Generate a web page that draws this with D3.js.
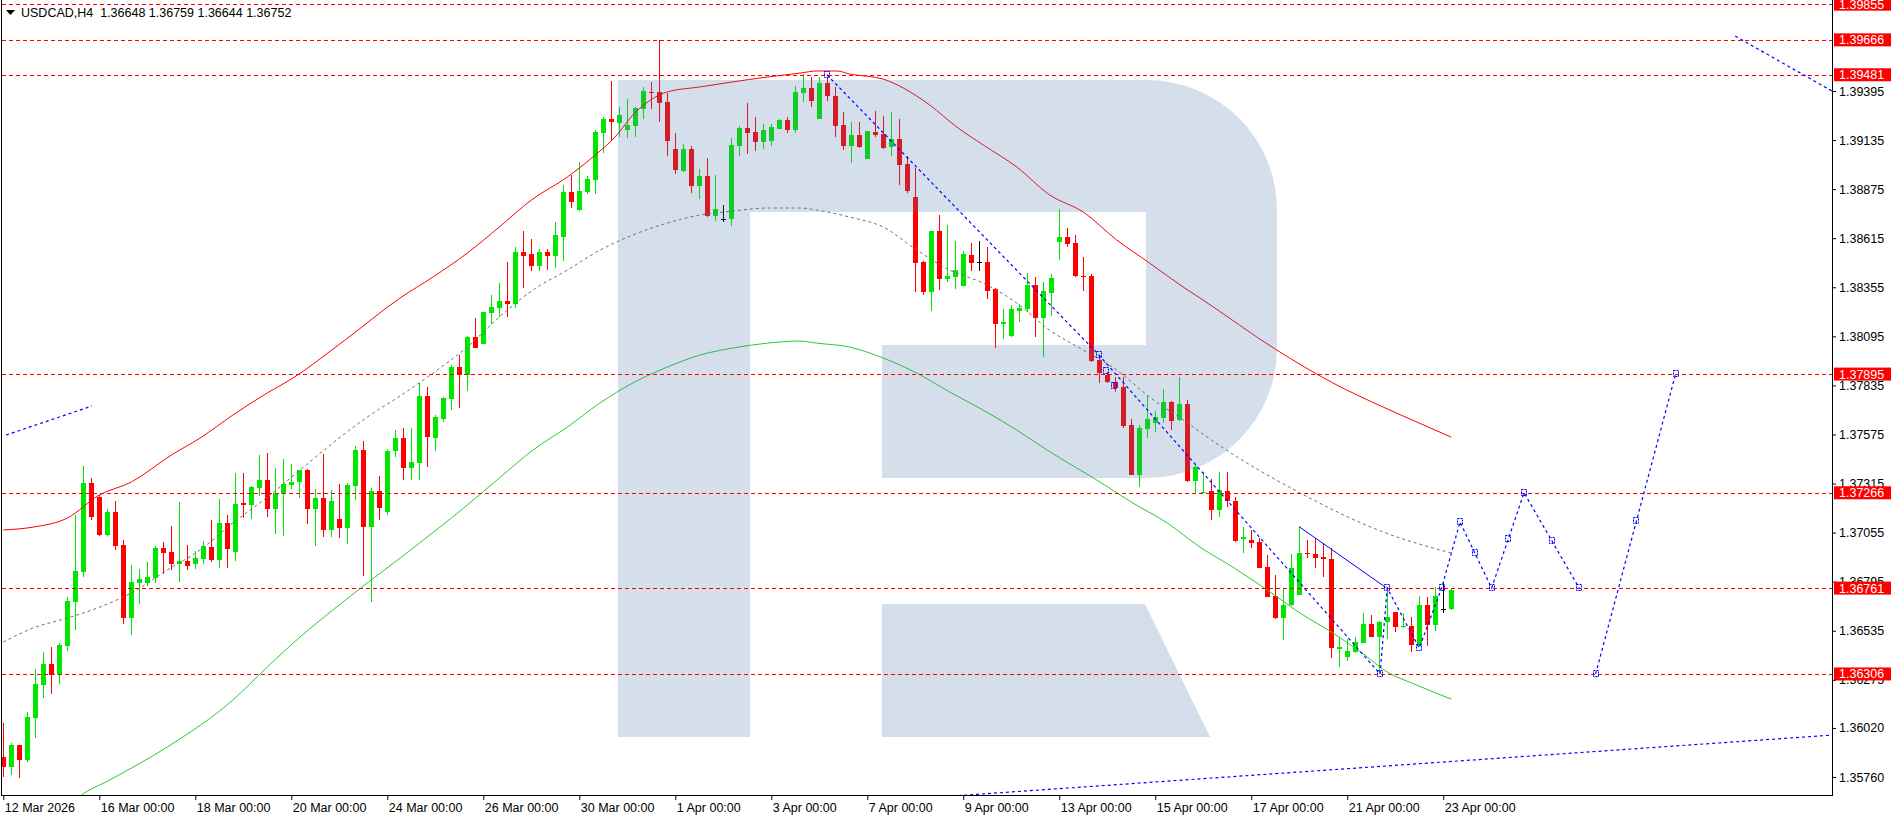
<!DOCTYPE html>
<html><head><meta charset="utf-8">
<script src="https://cdn.jsdelivr.net/npm/d3@7/dist/d3.min.js"></script>
<style>html,body{margin:0;padding:0;background:#fff;} svg{display:block;}</style>
</head><body><svg id="c" width="1896" height="820"></svg>
<script>
// ---------- DATA ----------
const symbolTitle = "USDCAD,H4";
const lastOHLC = ["1.36648", "1.36759", "1.36644", "1.36752"];

const open = [1.35868,1.35815,1.35929,1.35850,1.36074,1.36247,1.36359,1.36302,1.36454,1.36689,
1.36846,1.37319,1.37245,1.37042,1.37166,1.36991,1.36604,1.36786,1.36790,1.36816,
1.36975,1.36952,1.36890,1.36904,1.36890,1.36915,1.36980,1.36910,1.37107,1.36952,
1.37212,1.37201,1.37293,1.37335,1.37182,1.37261,1.37309,1.37321,1.37386,1.37182,
1.37240,1.37070,1.37127,1.37081,1.37302,1.37494,1.37086,1.37275,1.37166,1.37485,
1.37554,1.37399,1.37425,1.37779,1.37558,1.37655,1.37763,1.37934,1.37890,1.38093,
1.38056,1.38219,1.38247,1.38284,1.38268,1.38543,1.38531,1.38469,1.38543,1.38522,
1.38623,1.38860,1.38764,1.38861,1.38923,1.39174,1.39246,1.39227,1.39188,1.39211,
1.39298,1.39391,1.39390,1.39337,1.39087,1.38973,1.39087,1.38893,1.38944,1.38734,
1.38718,1.38718,1.39105,1.39199,1.39178,1.39126,1.39132,1.39195,1.39241,1.39188,
1.39386,1.39411,1.39246,1.39439,1.39368,1.39215,1.39105,1.39162,1.39036,1.39179,
1.39167,1.39100,1.39141,1.39006,1.38835,1.38490,1.38332,1.38653,1.38399,1.38409,
1.38363,1.38526,1.38489,1.38489,1.38344,1.38162,1.38098,1.38231,1.38242,1.38367,
1.38194,1.38326,1.38596,1.38621,1.38591,1.38415,1.38416,1.37969,1.37890,1.37851,
1.37828,1.37625,1.37360,1.37604,1.37637,1.37664,1.37749,1.37651,1.37736,1.37330,
1.37266,1.37273,1.37174,1.37275,1.37222,1.37023,1.37016,1.37007,1.36872,1.36719,
1.36604,1.36671,1.36724,1.36948,1.36941,1.36924,1.36915,1.36440,1.36397,1.36424,
1.36472,1.36570,1.36503,1.36583,1.36634,1.36553,1.36560,1.36459,1.36671,1.36565,
1.36648,1.36648];
const high = [1.36044,1.35938,1.35929,1.36106,1.36330,1.36424,1.36450,1.36468,1.36712,1.37148,
1.37408,1.37346,1.37254,1.37180,1.37224,1.37016,1.36883,1.36860,1.36901,1.36986,
1.37005,1.37092,1.37219,1.36991,1.36957,1.37010,1.37123,1.37233,1.37148,1.37371,
1.37371,1.37304,1.37468,1.37478,1.37397,1.37445,1.37420,1.37388,1.37390,1.37288,
1.37471,1.37281,1.37314,1.37319,1.37515,1.37542,1.37293,1.37355,1.37498,1.37600,
1.37607,1.37607,1.37846,1.37828,1.37680,1.37775,1.37943,1.37996,1.38097,1.38194,
1.38224,1.38314,1.38379,1.38489,1.38570,1.38653,1.38611,1.38558,1.38558,1.38701,
1.38897,1.38950,1.39020,1.38944,1.39188,1.39259,1.39448,1.39308,1.39351,1.39308,
1.39414,1.39444,1.39666,1.39383,1.39172,1.39114,1.39103,1.38982,1.39042,1.38950,
1.38791,1.39148,1.39209,1.39329,1.39259,1.39220,1.39220,1.39246,1.39259,1.39421,
1.39485,1.39467,1.39467,1.39462,1.39414,1.39282,1.39232,1.39232,1.39183,1.39289,
1.39262,1.39284,1.39246,1.39050,1.38985,1.38496,1.38653,1.38738,1.38685,1.38600,
1.38547,1.38591,1.38600,1.38567,1.38349,1.38240,1.38261,1.38266,1.38432,1.38409,
1.38385,1.38425,1.38770,1.38667,1.38632,1.38515,1.38423,1.37996,1.37908,1.37881,
1.37877,1.37657,1.37625,1.37779,1.37699,1.37814,1.37754,1.37877,1.37757,1.37413,
1.37374,1.37337,1.37378,1.37374,1.37245,1.37083,1.37069,1.37024,1.36936,1.36830,
1.36759,1.36941,1.37090,1.37016,1.37024,1.36998,1.36971,1.36503,1.36489,1.36503,
1.36627,1.36618,1.36588,1.36765,1.36634,1.36627,1.36609,1.36719,1.36715,1.36765,
1.36786,1.36759];
const low = [1.35762,1.35770,1.35753,1.35841,1.35965,1.36177,1.36200,1.36253,1.36429,1.36539,
1.36821,1.37122,1.37039,1.37039,1.36963,1.36571,1.36512,1.36676,1.36772,1.36790,
1.36834,1.36857,1.36793,1.36857,1.36864,1.36888,1.36897,1.36867,1.36867,1.36904,
1.37134,1.37129,1.37249,1.37136,1.37047,1.37035,1.37284,1.37240,1.37100,1.36986,
1.37033,1.37033,1.37026,1.36994,1.37229,1.36827,1.36689,1.37122,1.37148,1.37454,
1.37334,1.37334,1.37334,1.37404,1.37489,1.37643,1.37705,1.37717,1.37807,1.38035,
1.38056,1.38158,1.38199,1.38199,1.38243,1.38353,1.38443,1.38441,1.38446,1.38459,
1.38496,1.38777,1.38759,1.38849,1.38849,1.39064,1.39135,1.39153,1.39144,1.39153,
1.39248,1.39300,1.39232,1.39050,1.38957,1.38966,1.38856,1.38824,1.38729,1.38708,
1.38702,1.38681,1.39050,1.39059,1.39079,1.39086,1.39105,1.39193,1.39174,1.39171,
1.39338,1.39312,1.39246,1.39342,1.39153,1.39082,1.39012,1.39095,1.39036,1.39149,
1.39086,1.39052,1.38897,1.38856,1.38332,1.38314,1.38229,1.38340,1.38385,1.38346,
1.38363,1.38443,1.38443,1.38293,1.38035,1.38082,1.38093,1.38173,1.38226,1.38093,
1.37984,1.38204,1.38499,1.38570,1.38411,1.38337,1.37961,1.37849,1.37846,1.37801,
1.37607,1.37360,1.37298,1.37558,1.37590,1.37637,1.37598,1.37648,1.37325,1.37257,
1.37266,1.37122,1.37136,1.37192,1.37007,1.36945,1.36971,1.36865,1.36712,1.36599,
1.36486,1.36666,1.36724,1.36918,1.36865,1.36821,1.36389,1.36341,1.36376,1.36415,
1.36468,1.36503,1.36309,1.36489,1.36530,1.36551,1.36424,1.36454,1.36454,1.36535,
1.36630,1.36644];
const close = [1.35815,1.35929,1.35850,1.36079,1.36253,1.36359,1.36302,1.36459,1.36694,1.36851,
1.37319,1.37139,1.37042,1.37166,1.36986,1.36604,1.36795,1.36809,1.36820,1.36975,
1.36949,1.36888,1.36904,1.36880,1.36920,1.36986,1.36910,1.37107,1.36968,1.37206,
1.37203,1.37296,1.37335,1.37182,1.37265,1.37312,1.37325,1.37388,1.37182,1.37240,
1.37070,1.37222,1.37081,1.37307,1.37494,1.37086,1.37275,1.37187,1.37487,1.37556,
1.37399,1.37429,1.37779,1.37563,1.37666,1.37766,1.37934,1.37890,1.38093,1.38035,
1.38224,1.38250,1.38284,1.38268,1.38543,1.38522,1.38469,1.38543,1.38522,1.38632,
1.38860,1.38808,1.38865,1.38929,1.39179,1.39246,1.39232,1.39268,1.39215,1.39305,
1.39393,1.39383,1.39333,1.39132,1.38978,1.39087,1.38893,1.38944,1.38734,1.38770,
1.38718,1.39109,1.39199,1.39174,1.39126,1.39188,1.39204,1.39241,1.39188,1.39390,
1.39411,1.39344,1.39439,1.39370,1.39211,1.39105,1.39162,1.39100,1.39183,1.39162,
1.39095,1.39141,1.39003,1.38865,1.38485,1.38332,1.38653,1.38399,1.38415,1.38446,
1.38531,1.38485,1.38489,1.38337,1.38160,1.38169,1.38240,1.38245,1.38367,1.38194,
1.38335,1.38404,1.38621,1.38586,1.38415,1.38411,1.37966,1.37899,1.37851,1.37819,
1.37620,1.37360,1.37607,1.37655,1.37666,1.37745,1.37648,1.37736,1.37330,1.37404,
1.37272,1.37174,1.37281,1.37222,1.37012,1.37030,1.37001,1.36869,1.36715,1.36604,
1.36669,1.36865,1.36945,1.36940,1.36922,1.36913,1.36442,1.36447,1.36427,1.36475,
1.36570,1.36503,1.36583,1.36609,1.36556,1.36562,1.36459,1.36671,1.36565,1.36721,
1.36648,1.36752];

// envelope indicator readings: [bar index, price]
const upperBand = [[0,1.37069],[3.7,1.37084],[8,1.37132],[12,1.37254],[16,1.37323],[21,1.37466],[24.6,1.37556],[28.7,1.37678],[33,1.37795],[35.8,1.37863],[42.7,1.38075],[49.6,1.38298],[53.7,1.38409],[58,1.38536],[62,1.38674],[66,1.38817],[70.5,1.38939],[73.7,1.39045],[76.7,1.39162],[78.7,1.39268],[80.9,1.39347],[83,1.39390],[87,1.39416],[91,1.39442],[95.5,1.39469],[99.6,1.39490],[101.7,1.39501],[104.2,1.39501],[105.8,1.39485],[110,1.39458],[112.5,1.39411],[115.8,1.39321],[119.2,1.39204],[122.5,1.39109],[126.7,1.38992],[130.8,1.38844],[135,1.38754],[139.2,1.38605],[143.3,1.38483],[147.5,1.38356],[149.6,1.38298],[159.2,1.38022],[166.2,1.37848],[172.5,1.37720],[176.7,1.37641],[181,1.37561]];
const middleBand = [[0,1.36475],[3.7,1.36549],[8,1.36602],[12.1,1.36661],[16.2,1.36740],[20.5,1.36857],[24.6,1.36963],[28.7,1.37106],[33,1.37243],[37.1,1.37387],[41.2,1.37530],[45.5,1.37667],[49.6,1.37779],[53.7,1.37900],[58,1.38038],[62,1.38197],[66.2,1.38340],[70.5,1.38446],[74.6,1.38552],[78.7,1.38632],[83,1.38695],[87.1,1.38738],[91.2,1.38759],[95.5,1.38775],[99.6,1.38775],[101.7,1.38764],[105.8,1.38727],[110,1.38674],[114.2,1.38552],[118.3,1.38446],[122.5,1.38377],[126.7,1.38271],[130.8,1.38128],[135,1.38022],[139.2,1.37916],[143.3,1.37773],[147.5,1.37651],[152.5,1.37503],[162.1,1.37265],[172.5,1.37058],[181,1.36947]];
const lowerBand = [[6,1.35505],[9.6,1.35659],[13.3,1.35744],[20.5,1.35919],[28.7,1.36168],[33,1.36343],[37.1,1.36502],[41.2,1.36645],[45.5,1.36788],[49.6,1.36920],[58,1.37201],[62,1.37344],[66.2,1.37492],[70.5,1.37614],[74.6,1.37742],[78.7,1.37848],[83,1.37932],[87.1,1.37996],[91.2,1.38033],[95.5,1.38059],[99.6,1.38070],[101.7,1.38059],[105.8,1.38038],[110,1.37980],[114.2,1.37900],[118.3,1.37800],[122.5,1.37704],[126.7,1.37598],[130.5,1.37492],[137.1,1.37323],[141.2,1.37212],[145.5,1.37106],[149.6,1.36978],[153.7,1.36872],[158,1.36751],[162.1,1.36629],[166.2,1.36523],[170.5,1.36396],[172.5,1.36330],[176.7,1.36247],[181,1.36173]];

// horizontal levels
const levels = [1.39855, 1.39666, 1.39481, 1.37895, 1.37266, 1.36761, 1.36306];

// analysis lines [bar, price]
const dottedTrends = [
  [[0.34,1.37572],[11.1,1.37726]],
  [[102.96,1.39481],[136.97,1.37996],[172.1,1.36306]],
  [[172.1,1.36306],[173,1.36761],[177,1.36443],[179.8,1.36761],[182.1,1.37111],[186.05,1.36761],[190.1,1.37266],[197,1.36761]],
  [[199.05,1.36306],[209.05,1.37895]],
  [[216.5,1.39686],[228.6,1.39395]],
  [[118.6,1.35659],[228.6,1.35982]]
];
const solidTrend = [[162,1.37086],[172.8,1.36765]];
const markers = [[102.96,1.39481],[136.97,1.37996],[137.9,1.37911],[138.9,1.37832],[172.1,1.36306],[173,1.36761],[177,1.36443],[179.8,1.36761],[182.1,1.37111],[184,1.36947],[186.05,1.36761],[188.1,1.37021],[190.1,1.37266],[193.55,1.37012],[197,1.36761],[199.05,1.36306],[204.1,1.37118],[209.05,1.37895]];

// axes
const priceTicks = [1.39395,1.39135,1.38875,1.38615,1.38355,1.38095,1.37835,1.37575,1.37315,1.37055,1.36795,1.36535,1.36275,1.36020,1.35760];
const timeTickBars = [0,12,24,36,48,60,72,84,96,108,120,132,144,156,168,180];
const timeTickLabels = ["12 Mar 2026","16 Mar 00:00","18 Mar 00:00","20 Mar 00:00","24 Mar 00:00","26 Mar 00:00","30 Mar 00:00","1 Apr 00:00","3 Apr 00:00","7 Apr 00:00","9 Apr 00:00","13 Apr 00:00","15 Apr 00:00","17 Apr 00:00","21 Apr 00:00","23 Apr 00:00"];

// ---------- DRAW ----------
const FONT = "'Liberation Sans', Arial, sans-serif";
const svg = d3.select("#c");
const L = 2, R = 1832, B = 796;
const x = d3.scaleLinear().domain([0, 228.6]).range([3.3, R]);
const y = d3.scaleLinear().domain([1.35760, 1.39395]).range([777, 91]);

svg.append("rect").attr("width",1896).attr("height",820).attr("fill","#fff");
svg.append("defs").append("clipPath").attr("id","plot")
  .append("rect").attr("x",L).attr("y",0).attr("width",R-L).attr("height",B);

const plot = svg.append("g").attr("clip-path","url(#plot)");

const GREEN = "#00e600", RED = "#ff0000";
const bars = d3.range(open.length);
const colorOf = i => close[i] > open[i] ? GREEN : (close[i] < open[i] ? RED : "#000");
const cx = i => Math.round(x(i));

const candles = plot.append("g").attr("shape-rendering","crispEdges");
candles.selectAll("line").data(bars).join("line")
  .attr("x1", i => cx(i)+0.5).attr("x2", i => cx(i)+0.5)
  .attr("y1", i => y(high[i])).attr("y2", i => y(low[i]))
  .attr("stroke", colorOf).attr("stroke-width",1);
candles.selectAll("rect").data(bars).join("rect")
  .attr("x", i => cx(i)-2)
  .attr("width", 5)
  .attr("y", i => Math.round(y(Math.max(open[i],close[i]))))
  .attr("height", i => Math.max(1, Math.round(y(Math.min(open[i],close[i]))) - Math.round(y(Math.max(open[i],close[i])))))
  .attr("fill", colorOf);

const bandLine = d3.line().x(d => x(d[0])).y(d => y(d[1])).curve(d3.curveMonotoneX);
plot.append("path").attr("d", bandLine(upperBand)).attr("fill","none").attr("stroke","#ff0000").attr("stroke-width",1);
plot.append("path").attr("d", bandLine(middleBand)).attr("fill","none").attr("stroke","#707070").attr("stroke-width",1).attr("stroke-dasharray","3,3");
plot.append("path").attr("d", bandLine(lowerBand)).attr("fill","none").attr("stroke","#2ec82e").attr("stroke-width",1);

// watermark logo (decoration)
const logo = plot.append("g").attr("opacity",0.235).attr("fill","#4d77aa");
logo.append("path").attr("d","M618,80 H1147 A130,130 0 0 1 1277,210 V348 A130,130 0 0 1 1147,478 H882 V345 H1146 V212 H750 V737 H618 Z");
logo.append("path").attr("d","M882,604 H1145 L1210,737 H882 Z");

// horizontal levels
plot.selectAll(".lvl").data(levels).join("line").attr("class","lvl")
  .attr("x1",L).attr("x2",R)
  .attr("y1", d => Math.round(y(d))+0.5).attr("y2", d => Math.round(y(d))+0.5)
  .attr("stroke","#ff0000").attr("stroke-width",1).attr("stroke-dasharray","4,3")
  .attr("shape-rendering","crispEdges");

// analysis lines
const straight = d3.line().x(d => x(d[0])).y(d => y(d[1]));
plot.selectAll(".dt").data(dottedTrends).join("path").attr("class","dt")
  .attr("d", straight).attr("fill","none").attr("stroke","#0000ff")
  .attr("stroke-width",1.2).attr("stroke-dasharray","3,3");
plot.append("path").attr("d", straight(solidTrend)).attr("fill","none").attr("stroke","#0000ff").attr("stroke-width",1);
plot.selectAll(".mk").data(markers).join("rect").attr("class","mk")
  .attr("x", d => Math.round(x(d[0]))-2.5).attr("y", d => Math.round(y(d[1]))-3.5)
  .attr("width",5).attr("height",6).attr("fill","none")
  .attr("stroke","#0000ff").attr("stroke-width",1).attr("stroke-dasharray","2,1");

// frame
svg.append("g").attr("shape-rendering","crispEdges").call(g => {
  g.append("line").attr("x1",L-0.5).attr("x2",L-0.5).attr("y1",0).attr("y2",B).attr("stroke","#000");
  g.append("line").attr("x1",R+0.5).attr("x2",R+0.5).attr("y1",0).attr("y2",B).attr("stroke","#000");
  g.append("line").attr("x1",L-1).attr("x2",R+1).attr("y1",B-0.5).attr("y2",B-0.5).attr("stroke","#000");
});

// right price axis
const yAxis = svg.append("g").attr("transform",`translate(${R},0)`)
  .call(d3.axisRight(y).tickValues(priceTicks).tickFormat(d3.format(".5f")).tickSize(4).tickPadding(3));
yAxis.select(".domain").remove();
yAxis.attr("font-family",FONT).attr("font-size",12.5);
yAxis.selectAll("line").attr("stroke","#000");
yAxis.selectAll("text").attr("fill","#000");

// bottom time axis
const xAxis = svg.append("g").attr("transform",`translate(0,${B})`)
  .call(d3.axisBottom(x).tickValues(timeTickBars).tickFormat((d,k) => timeTickLabels[k]).tickSize(4).tickPadding(3));
xAxis.select(".domain").remove();
xAxis.attr("font-family",FONT).attr("font-size",12.5);
xAxis.selectAll("line").attr("stroke","#000");
xAxis.selectAll("text").attr("fill","#000").attr("text-anchor","start").attr("x",1);

// level price labels on the axis
const lab = svg.append("g");
lab.selectAll("rect").data(levels).join("rect")
  .attr("x",R+2).attr("width",57).attr("y", d => y(d)-6.5).attr("height",13).attr("fill","#ff0000");
lab.selectAll("text").data(levels).join("text")
  .attr("x",R+7).attr("y", d => y(d)).attr("dy","0.36em")
  .attr("font-family",FONT).attr("font-size",12.5).attr("fill","#fff")
  .text(d => d3.format(".5f")(d));

// header
svg.append("path").attr("d","M6,10 L15,10 L10.5,15 Z").attr("fill","#000");
svg.append("text").attr("x",21).attr("y",17).attr("font-family",FONT).attr("font-size",12.5).attr("fill","#000")
  .attr("xml:space","preserve")
  .text(symbolTitle + "  " + lastOHLC.join(" "));
</script></body></html>
